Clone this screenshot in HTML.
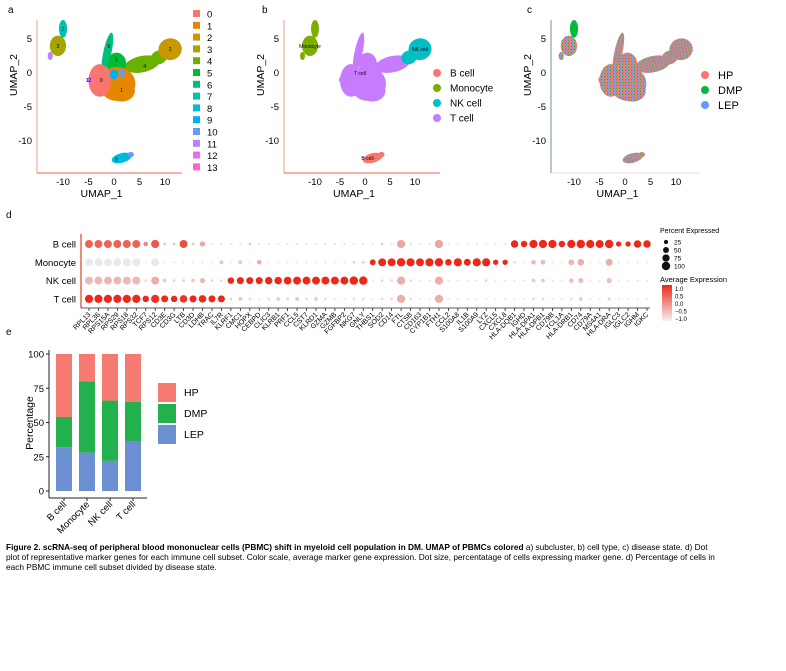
<!DOCTYPE html>
<html><head><meta charset="utf-8"><style>
body{margin:0;background:#fff;}
svg{display:block;font-family:"Liberation Sans",Arial,sans-serif;}
</style></head><body>
<svg id="fig" width="786" height="671" viewBox="0 0 786 671" xmlns="http://www.w3.org/2000/svg">
<defs>
<pattern id="mix" width="3" height="3" patternUnits="userSpaceOnUse">
<rect width="3" height="3" fill="#d88a80"/>
<rect x="0" y="0" width="1" height="1" fill="#f8766d"/><rect x="1" y="1" width="1" height="1" fill="#00ba38"/><rect x="2" y="2" width="1" height="1" fill="#619cff"/>
<rect x="2" y="0" width="1" height="1" fill="#619cff"/><rect x="0" y="2" width="1" height="1" fill="#f8766d"/><rect x="1" y="0" width="1" height="1" fill="#f8766d"/>
</pattern>
</defs>
<g font-size="10">
<text x="8" y="13">a</text>
<text x="262" y="13">b</text>
<text x="527" y="13">c</text>
<text x="6" y="218">d</text>
<text x="6" y="335">e</text>
</g>
<g id="umaps"></g>
<g id="dotplot"></g>
<g id="bars"></g>
<text font-size="8.3" font-weight="bold">
<tspan x="6" y="550">Figure 2. scRNA-seq of peripheral blood mononuclear cells (PBMC) shift in myeloid cell population in DM. UMAP of PBMCs colored <tspan font-weight="normal">a) subcluster, b) cell type, c) disease state. d) Dot</tspan></tspan>
<tspan x="6" y="560" font-weight="normal">plot of representative marker genes for each immune cell subset. Color scale, average marker gene expression. Dot size, percentatage of cells expressing marker gene. d) Percentage of cells in</tspan>
<tspan x="6" y="570" font-weight="normal">each PBMC immune cell subset divided by disease state.</tspan>
</text>
</svg>
<script>
const NS="http://www.w3.org/2000/svg";
function mk(p,tag,at,txt){const e=document.createElementNS(NS,tag);for(const k in at)e.setAttribute(k,at[k]);if(txt!==undefined)e.textContent=txt;p.appendChild(e);return e;}

// ---------- UMAP panels ----------
const umapTicksX=[-10,-5,0,5,10];
const umapTicksY=[5,0,-5,-10];
const clusterLabels=["0","1","2","3","4","5","6","7","8","9","10","11","12","13"];
const clusterColors=["#f8766d","#e58700","#c99800","#a3a500","#6bb100","#00ba38","#00bf7d","#00c0af","#00bcd8","#00b0f6","#619cff","#b983ff","#e76bf3","#fd61d1"];
const cellTypes=["B cell","Monocyte","NK cell","T cell"];
const cellColors=["#f8766d","#7cae00","#00bfc4","#c77cff"];
const diseaseStates=["HP","DMP","LEP"];
const diseaseColors=["#f8766d","#00ba38","#619cff"];
// blobs: [cx,cy,rx,ry,rot,cluster,cellTypeIndex]
const blobs=[
 [-1.3,3,0.8,3,12,6,3],[5.5,1.3,3.5,1.2,-12,4,3],[8.8,2.3,1.6,1.0,-20,4,2],
 [11,3.5,2.3,1.6,-10,2,2],[0.5,1.3,1.9,1.7,0,5,3],
 [0.6,-1.6,3.6,2.5,0,1,3],[1.5,-2.6,2.6,1.6,0,1,3],[-2.8,-1.1,2.2,2.4,0,0,3],[-4.7,-1,0.5,0.5,0,12,3],[0,-0.2,0.8,0.7,0,9,3],[1.5,0,0.6,0.6,0,10,3],
 [-11,4,1.6,1.5,0,3,1],[-10,6.5,0.8,1.3,0,7,1],[-12.5,2.5,0.5,0.6,0,11,1],
 [1.5,-12.5,2,0.7,-15,8,0],[3.3,-12,0.6,0.4,0,10,0]
];
const panels=[{x0:114,sx:5.1,left:37,right:182,name:"a"},{x0:365,sx:5.0,left:284,right:440,name:"b"},{x0:625,sx:5.1,left:551,right:700,name:"c"}];
const um=document.getElementById('umaps');
panels.forEach((P,pi)=>{
 const g=mk(um,'g',{});
 
 
 const X=u=>P.x0+u*P.sx, Y=v=>73-v*6.8;
 blobs.forEach(b=>{
  let fill=pi===0?clusterColors[b[5]]:pi===1?cellColors[b[6]]:(b[5]===7?"#00ba38":"url(#mix)");
  const e=mk(g,'ellipse',{cx:X(b[0]),cy:Y(b[1]),rx:b[2]*P.sx,ry:b[3]*6.8,fill:fill,transform:`rotate(${b[4]} ${X(b[0])} ${Y(b[1])})`});
  
  
 });
 const ax=mk(g,'line',{x1:P.left,y1:20,x2:P.left,y2:173,stroke:pi===2?"#8aa3b0":"#e8b0a0","stroke-width":1.2});
 
 const bx=mk(g,'line',{x1:P.left,y1:173,x2:P.right,y2:173,stroke:pi===2?"#f0e0e0":"#f08070","stroke-width":1.2});
 
 umapTicksX.forEach(t=>{const e=mk(g,'text',{x:X(t),y:185,"font-size":9.5,"text-anchor":"middle"},String(t));});
 umapTicksY.forEach(t=>{const e=mk(g,'text',{x:P.left-5,y:Y(t)+3,"font-size":9.5,"text-anchor":"end"},String(t));});
 const xt=mk(g,'text',{x:(P.left+P.right)/2-8,y:197,"font-size":10.5,"text-anchor":"middle"},"UMAP_1");
 
 const yt=mk(g,'text',{x:0,y:0,"font-size":10.5,"text-anchor":"middle",transform:`translate(${P.left-20},${75}) rotate(-90)`},"UMAP_2");
 
 const lg=mk(g,'g',{});
 
 if(pi===0){clusterLabels.forEach((l,i)=>{const y=14+i*11.8;mk(lg,'rect',{x:193,y:y-4,width:7,height:7,fill:clusterColors[i]});const t=mk(lg,'text',{x:207,y:y+3.5,"font-size":9.5},l);});}
 else if(pi===1){cellTypes.forEach((l,i)=>{const y=73+i*15;mk(lg,'circle',{cx:437,cy:y,r:4,fill:cellColors[i]});const t=mk(lg,'text',{x:450,y:y+3.5,"font-size":10},l);});}
 else{diseaseStates.forEach((l,i)=>{const y=75+i*15;mk(lg,'circle',{cx:705,cy:y,r:4,fill:diseaseColors[i]});const t=mk(lg,'text',{x:718,y:y+4,"font-size":11},l);});}
});
[[-2.5,-1,"0"],[1.5,-2.5,"1"],[11,3.5,"2"],[-11,4,"3"],[6,1,"4"],[0.5,2,"5"],[-1,4,"6"],[-10,6.5,"7"],[0.5,-12.7,"8"],[-5,-1,"12"]].forEach(c=>{mk(um,'text',{x:114+c[0]*5.1,y:73-c[1]*6.8+2,"font-size":5,"text-anchor":"middle"},c[2]);});
[[-11,4,"Monocyte"],[-1,0,"T cell"],[11,3.5,"NK cell"],[0.5,-12.5,"B cell"]].forEach(c=>{mk(um,'text',{x:365+c[0]*5,y:73-c[1]*6.8+2,"font-size":5,"text-anchor":"middle"},c[2]);});

// ---------- Dot plot ----------
const genes=["RPL13","RPL36","RPS15A","RPS29","RPS18","RPS32","TCF7","RPS12","CD3E","CD3G","LTB","CD3D","LDHB","TRAC","IL7R","KLRF1","CMC1","HOPX","CEBPD","CLIC3","KLRB1","PRF1","CCL5","CST7","KLRD1","GZMA","GZMB","FGFBP2","NKG7","GNLY","THBS1","SOD2","CD14","FTL","CTSB","CD163","CYP1B1","FTH1","CCL2","S100A8","IL1B","S100A9","LYZ","CXCL5","CXCL8","HLA-DQB1","IGHD","HLA-DPA1","HLA-DPB1","CD79B","TCL1A","HLA-DRB1","CD74","CD79A","MS4A1","HLA-DRA","IGLC3","IGLC2","IGHM","IGKC"];
const rows=["B cell","Monocyte","NK cell","T cell"];
const pctB=[90,90,90,90,90,90,30,95,10,10,90,10,40,5,5,5,5,10,5,5,5,5,5,5,5,5,5,5,5,5,5,10,5,95,5,5,5,95,5,5,5,5,5,5,5,80,60,95,95,95,60,95,100,95,90,100,40,40,80,80];
const expB=[0.4,0.4,0.4,0.4,0.4,0.4,0.0,0.5,-0.6,-0.6,0.6,-0.6,-0.3,-0.8,-0.8,-0.8,-0.8,-0.7,-0.8,-0.8,-0.8,-0.8,-0.8,-0.8,-0.8,-0.8,-0.8,-0.8,-0.8,-0.8,-0.9,-0.7,-0.9,-0.3,-0.8,-0.8,-0.8,-0.3,-0.9,-0.9,-0.9,-0.9,-0.9,-0.9,-0.9,1.0,1.0,1.0,1.0,1.0,1.0,1.0,1.0,1.0,1.0,1.0,1.0,1.0,1.0,1.0];
const pctM=[90,90,90,90,90,90,5,90,5,5,5,5,5,5,20,5,20,5,30,5,5,5,5,5,5,5,5,5,10,10,50,90,90,100,95,90,95,100,60,95,70,95,95,40,40,10,5,30,30,5,5,50,60,5,5,70,5,5,5,5];
const expM=[-1,-1,-1,-1,-1,-1,-0.9,-1,-0.9,-0.9,-0.9,-0.9,-0.9,-0.9,-0.6,-0.9,-0.6,-0.9,-0.4,-0.9,-0.9,-0.9,-0.9,-0.9,-0.9,-0.9,-0.9,-0.9,-0.7,-0.7,1.0,1.0,1.0,1.0,1.0,1.0,1.0,1.0,1.0,1.0,1.0,1.0,1.0,1.0,1.0,-0.8,-0.9,-0.5,-0.5,-0.9,-0.9,-0.5,-0.4,-0.9,-0.9,-0.4,-0.9,-0.9,-0.9,-0.9];
const pctN=[90,90,90,90,90,90,10,90,20,10,10,20,40,10,10,60,70,70,70,80,80,85,90,90,90,90,90,90,100,100,5,10,10,95,10,5,5,95,5,5,5,5,10,5,5,5,5,20,20,5,5,30,40,5,5,40,5,5,5,5];
const expN=[-0.5,-0.5,-0.5,-0.5,-0.5,-0.5,-0.8,-0.4,-0.7,-0.8,-0.7,-0.7,-0.5,-0.8,-0.8,1.0,1.0,1.0,1.0,1.0,1.0,1.0,1.0,1.0,1.0,1.0,1.0,1.0,1.0,1.0,-0.9,-0.8,-0.8,-0.4,-0.8,-0.9,-0.9,-0.4,-0.9,-0.9,-0.9,-0.9,-0.8,-0.9,-0.9,-0.9,-0.9,-0.7,-0.7,-0.9,-0.9,-0.6,-0.6,-0.9,-0.9,-0.6,-0.9,-0.9,-0.9,-0.9];
const pctT=[95,95,95,95,95,95,60,95,70,60,80,70,80,70,70,10,20,10,5,10,20,10,20,10,20,10,5,5,10,10,5,10,10,95,10,5,5,95,5,5,5,5,5,5,5,5,5,10,10,5,5,10,20,5,5,15,5,5,5,5];
const expT=[1,1,1,1,1,1,1,0.9,1,1,0.9,1,1,1,1,-0.7,-0.6,-0.8,-0.9,-0.8,-0.7,-0.8,-0.6,-0.8,-0.7,-0.8,-0.9,-0.9,-0.8,-0.8,-0.9,-0.8,-0.8,-0.4,-0.8,-0.9,-0.9,-0.4,-0.9,-0.9,-0.9,-0.9,-0.9,-0.9,-0.9,-0.9,-0.9,-0.8,-0.8,-0.9,-0.9,-0.8,-0.7,-0.9,-0.9,-0.8,-0.9,-0.9,-0.9,-0.9];
const pctRows=[pctB,pctM,pctN,pctT];
const expRows=[expB,expM,expN,expT];
const sizeTicks=[25,50,75,100];
const colorTicks=["1.0","0.5","0.0","\u22120.5","\u22121.0"];
const dp=document.getElementById('dotplot');
const gx=i=>89+i*(647-89)/(genes.length-1);
const ry=i=>244+i*18.3;
const rad=p=>Math.sqrt(p/100)*4.2;
function ecol(v){const t=(v+1)/2;const a=[235,232,232],b=[238,40,25];return `rgb(${a.map((c,k)=>Math.round(c+(b[k]-c)*t)).join(',')})`;}
{const e=mk(dp,'line',{x1:81,y1:234,x2:81,y2:308,stroke:"#e04020","stroke-width":1.2});}
{const e=mk(dp,'line',{x1:81,y1:308,x2:650,y2:308,stroke:"#222","stroke-width":0.8});}
rows.forEach((r,i)=>{const t=mk(dp,'text',{x:76,y:ry(i)+3.5,"font-size":9.5,"text-anchor":"end"},r);});
genes.forEach((g,j)=>{
 mk(dp,'line',{x1:gx(j),y1:308,x2:gx(j),y2:311,stroke:"#222","stroke-width":0.8});
 const t=mk(dp,'text',{x:0,y:0,"font-size":7,"text-anchor":"end",transform:`translate(${gx(j)+2},${315}) rotate(-45)`},g);
 
 
 rows.forEach((r,i)=>{
  const c=mk(dp,'circle',{cx:gx(j),cy:ry(i),r:rad(pctRows[i][j]),fill:ecol(expRows[i][j])});
  
  
 });
});
{const t=mk(dp,'text',{x:660,y:233,"font-size":7},"Percent Expressed");}
sizeTicks.forEach((s,i)=>{mk(dp,'circle',{cx:666,cy:242+i*8,r:rad(s),fill:"#111"});const t=mk(dp,'text',{x:674,y:244.5+i*8,"font-size":6.5},String(s));});
{const t=mk(dp,'text',{x:660,y:282,"font-size":7.5},"Average Expression");}
const lgd=mk(dp,'linearGradient',{id:"eg",x1:0,y1:0,x2:0,y2:1});
mk(lgd,'stop',{offset:0,"stop-color":"#ee2819"});mk(lgd,'stop',{offset:1,"stop-color":"#f4f0f0"});
{const r=mk(dp,'rect',{x:662,y:285,width:10,height:36,fill:"url(#eg)"});}
colorTicks.forEach((c,i)=>{mk(dp,'text',{x:675,y:291+i*7.5,"font-size":6},c);});

// ---------- Stacked bars ----------
const barCats=["B cell","Monocyte","NK cell","T cell"];
const lepVals=[32,28,22,36];
const dmpVals=[22,52,44,29];
const hpVals=[46,20,34,35];
const yTicks=[0,25,50,75,100];
const bg=document.getElementById('bars');
const by=v=>491-v*1.37;
const bx=i=>56+i*23;
const bw=16;
yTicks.forEach(t=>{const e=mk(bg,'text',{x:44,y:by(t)+3.5,"font-size":9.5,"text-anchor":"end"},String(t));mk(bg,'line',{x1:46,y1:by(t),x2:49,y2:by(t),stroke:"#222"});});
barCats.forEach((c,i)=>{
 const segs=[[lepVals[i],"#6b8fd0","bar-lep"],[dmpVals[i],"#22b14c","bar-dmp"],[hpVals[i],"#f47a72","bar-hp"]];
 let acc=0;
 segs.forEach(s=>{
  const r=mk(bg,'rect',{x:bx(i),y:by(acc+s[0]),width:bw,height:s[0]*1.37,fill:s[1]});
  
  
  acc+=s[0];
 });
 mk(bg,'line',{x1:bx(i)+bw/2,y1:498,x2:bx(i)+bw/2,y2:501,stroke:"#222"});
 const t=mk(bg,'text',{x:0,y:0,"font-size":9.5,"text-anchor":"end",transform:`translate(${bx(i)+bw/2+3},${505}) rotate(-45)`},c);
 
 
});
{const e=mk(bg,'line',{x1:49,y1:350,x2:49,y2:498,stroke:"#222","stroke-width":1});}
{const e=mk(bg,'line',{x1:49,y1:498,x2:147,y2:498,stroke:"#222","stroke-width":1});}
{const e=mk(bg,'text',{x:0,y:0,"font-size":10.5,"text-anchor":"middle",transform:"translate(33,423) rotate(-90)"},"Percentage");}
[["HP","#f47a72",383],["DMP","#22b14c",404],["LEP","#6b8fd0",425]].forEach(l=>{
 mk(bg,'rect',{x:158,y:l[2],width:18,height:19,fill:l[1]});
 const t=mk(bg,'text',{x:184,y:l[2]+13,"font-size":10.5},l[0]);
 
 
});
</script>
</body></html>
